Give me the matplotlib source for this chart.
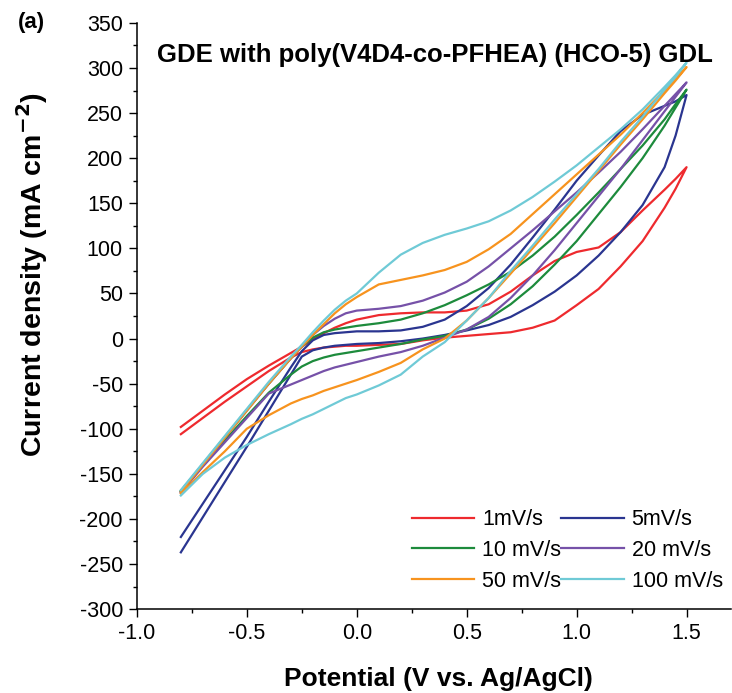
import matplotlib
matplotlib.use("Agg")
import matplotlib.pyplot as plt
from matplotlib.ticker import MultipleLocator

plt.rcParams['font.family'] = ['Liberation Sans', 'DejaVu Sans']
plt.rcParams['axes.unicode_minus'] = False
plt.rcParams['mathtext.default'] = 'bf'

# potential grid (V vs. Ag/AgCl) shared by all branches
E = [-0.8, -0.7, -0.6, -0.5, -0.4, -0.3, -0.25, -0.2, -0.15, -0.1, -0.05,
     0.0, 0.1, 0.2, 0.3, 0.4, 0.5, 0.6, 0.7, 0.8, 0.9, 1.0, 1.1, 1.2, 1.3,
     1.4, 1.45, 1.5]

# anodic (upper) branches, mA cm-2
j1_up = [-98, -80, -62, -45, -30, -16, -9, -1, 6, 12, 17,
         21, 26, 28, 29, 29, 31, 38, 52, 70, 86, 96, 101, 118, 142,
         165, 177, 190]
j5_up = [-220, -183, -146, -109, -70, -32, -14, -2, 4, 6, 7,
         8, 8, 9, 13, 21, 36, 56, 82, 112, 143, 175, 203, 230, 248,
         258, 263, 270]
j10_up = [-169, -139, -109, -79, -50, -22, -9, 1, 7, 10, 12,
          14, 17, 21, 28, 37, 48, 60, 74, 92, 113, 137, 162, 188, 214,
          243, 260, 276]
j20_up = [-170, -140, -110, -80, -50, -22, -9, 4, 14, 22, 28,
          31, 33, 36, 42, 51, 63, 80, 100, 120, 141, 162, 184, 207, 232,
          258, 271, 284]
j50_up = [-170, -140, -110, -80, -50, -22, -9, 4, 16, 28, 38,
          46, 60, 65, 70, 76, 85, 99, 116, 138, 160, 182, 204, 226, 250,
          275, 288, 301]
j100_up = [-168, -138, -108, -78, -48, -20, -7, 7, 20, 32, 42,
           50, 73, 93, 106, 115, 122, 130, 142, 157, 174, 192, 212, 232, 254,
           279, 292, 306]

# cathodic (lower) branches, same grid
j1_dn = [-106, -88, -70, -53, -36, -21, -15, -12, -10, -9, -8,
         -8, -7, -6, -2, 1, 3, 5, 7, 12, 20, 37, 55, 80, 108,
         145, 166, 190]
j5_dn = [-237, -198, -159, -120, -80, -40, -20, -13, -10, -8, -7,
         -6, -5, -3, 0, 4, 9, 15, 24, 37, 52, 70, 92, 118, 148,
         190, 225, 270]
j10_dn = [-169, -140, -113, -86, -60, -40, -31, -25, -21, -18, -16,
          -14, -10, -6, -1, 3, 10, 22, 38, 58, 82, 108, 138, 168, 200,
          236, 256, 276]
j20_dn = [-171, -142, -115, -88, -61, -51, -46, -41, -36, -32, -29,
          -26, -20, -15, -8, 1, 10, 24, 45, 70, 98, 128, 158, 188, 220,
          252, 268, 284]
j50_dn = [-172, -148, -125, -100, -85, -72, -67, -63, -58, -54, -50,
          -46, -37, -27, -12, 0, 20, 45, 72, 100, 128, 157, 186, 215, 243,
          272, 286, 301]
j100_dn = [-174, -150, -132, -118, -106, -95, -89, -84, -78, -72, -66,
           -62, -52, -40, -20, -4, 20, 45, 75, 103, 132, 160, 188, 218, 246,
           276, 290, 306]

labels = ['1mV/s', '5mV/s', '10 mV/s', '20 mV/s', '50 mV/s', '100 mV/s']
colors = ['#ee2a2e', '#2a3590', '#1d8b3c', '#7651a8', '#f7931e', '#6fcad6']
ups = [j1_up, j5_up, j10_up, j20_up, j50_up, j100_up]
dns = [j1_dn, j5_dn, j10_dn, j20_dn, j50_dn, j100_dn]

fig = plt.figure(figsize=(7.32, 6.93), dpi=100)
ax = fig.add_axes([0.187, 0.121, 0.811, 0.846])

handles = []
for up, dn, c, lab in zip(ups, dns, colors, labels):
    xs = E + E[::-1]
    ys = up + dn[::-1]
    ln, = ax.plot(xs, ys, color=c, lw=1.6, label=lab, solid_joinstyle='round')
    handles.append(ln)

ax.set_xlim(-1.0, 1.7)
ax.set_ylim(-300, 350)
ax.xaxis.set_major_locator(MultipleLocator(0.5))
ax.xaxis.set_minor_locator(MultipleLocator(0.25))
ax.yaxis.set_major_locator(MultipleLocator(50))
ax.yaxis.set_minor_locator(MultipleLocator(25))
ax.set_xticks([-1.0, -0.5, 0.0, 0.5, 1.0, 1.5])
ax.set_xticklabels(['-1.0', '-0.5', '0.0', '0.5', '1.0', '1.5'])

for s in ['top', 'right']:
    ax.spines[s].set_visible(False)
for s in ['left', 'bottom']:
    ax.spines[s].set_linewidth(1.1)

ax.tick_params(which='major', direction='out', length=6, width=1.0,
               labelsize=15.5, pad=4)
ax.tick_params(which='minor', direction='out', length=3, width=1.0)

ax.set_xlabel('Potential (V vs. Ag/AgCl)', fontsize=19, fontweight='bold')
ax.set_ylabel(r'Current density (mA cm$^{-2}$)', fontsize=20.5,
              fontweight='bold')
ax.xaxis.set_label_coords(0.508, -0.098)
ax.yaxis.set_label_coords(-0.146, 0.57)

ax.text(0.5025, 0.945, 'GDE with poly(V4D4-co-PFHEA) (HCO-5) GDL',
        transform=ax.transAxes, ha='center', va='center',
        fontsize=18.5, fontweight='bold')
fig.text(0.043, 0.967, '(a)', ha='center', va='center', fontsize=16,
         fontweight='bold')

order = [0, 2, 4, 1, 3, 5]
ax.legend([handles[i] for i in order], [labels[i] for i in order],
          ncol=2, frameon=False, loc='lower left',
          bbox_to_anchor=(0.463, 0.03), borderaxespad=0, borderpad=0,
          fontsize=15.5, handlelength=2.9, handletextpad=0.37,
          labelspacing=0.45, columnspacing=0.0)

fig.savefig('out.png', dpi=100)
